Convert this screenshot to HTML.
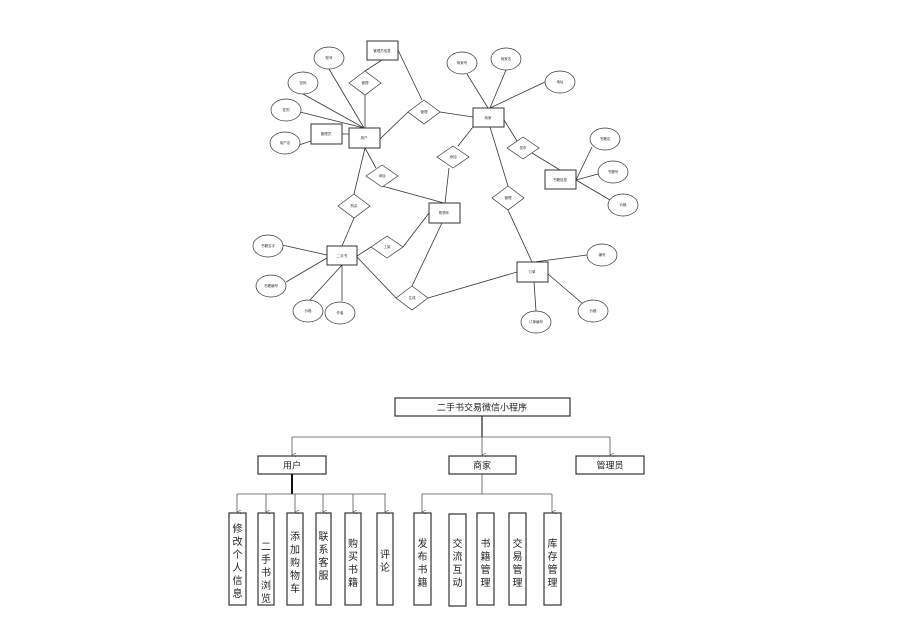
<!DOCTYPE html>
<html><head><meta charset="utf-8"><style>
html,body{margin:0;padding:0;background:#fff;}
svg{display:block;}
text{font-family:"Liberation Sans","Noto Sans CJK SC",sans-serif;}
.s{font-size:3.5px;fill:#333;text-anchor:middle;dominant-baseline:middle;}
.b{font-size:9px;fill:#222;text-anchor:middle;dominant-baseline:middle;}
.v{font-size:10px;fill:#222;text-anchor:middle;}
</style></head><body>
<svg width="924" height="625" viewBox="0 0 924 625" xmlns="http://www.w3.org/2000/svg">
<defs><marker id="a" markerWidth="4" markerHeight="4" refX="2" refY="4" orient="auto" markerUnits="userSpaceOnUse"><path d="M0,0 L2,4 L4,0" fill="none" stroke="#555" stroke-width="0.6"/></marker></defs>
<g stroke="#333" stroke-width="0.8" fill="none">
<!-- ER lines -->
<line x1="382" y1="60" x2="365" y2="71"/><line x1="365" y1="95" x2="365" y2="128"/>
<line x1="398" y1="50" x2="422" y2="100"/>
<line x1="380" y1="139" x2="408" y2="112"/><line x1="440" y1="112" x2="473" y2="117"/>
<line x1="329" y1="69" x2="364" y2="128"/><line x1="303" y1="94" x2="364" y2="128"/><line x1="300" y1="112" x2="364" y2="128"/>
<line x1="299" y1="145" x2="311" y2="141"/><line x1="342" y1="134" x2="349" y2="134"/>
<line x1="467" y1="74" x2="488" y2="108"/><line x1="506" y1="70" x2="490" y2="108"/><line x1="545" y1="82" x2="490" y2="108"/>
<line x1="473" y1="127" x2="458" y2="146"/><line x1="449" y1="168" x2="445" y2="203"/>
<line x1="504" y1="120" x2="517" y2="141"/><line x1="532" y1="153" x2="560" y2="170"/>
<line x1="576" y1="180" x2="592" y2="147"/><line x1="576" y1="180" x2="598" y2="174"/><line x1="576" y1="180" x2="610" y2="200"/>
<line x1="490" y1="127" x2="508" y2="186"/><line x1="508" y1="210" x2="532" y2="262"/>
<line x1="365" y1="148" x2="376" y2="168"/><line x1="382" y1="186" x2="444" y2="203"/>
<line x1="365" y1="148" x2="354" y2="194"/><line x1="354" y1="218" x2="342" y2="246"/>
<line x1="282" y1="245" x2="327" y2="255"/><line x1="286" y1="282" x2="327" y2="258"/><line x1="310" y1="300" x2="342" y2="265"/><line x1="342" y1="301" x2="342" y2="265"/>
<line x1="357" y1="256" x2="371" y2="247"/><line x1="403" y1="247" x2="429" y2="213"/>
<line x1="357" y1="257" x2="396" y2="298"/><line x1="442" y1="223" x2="412" y2="286"/><line x1="428" y1="298" x2="517" y2="272"/>
<line x1="534" y1="262" x2="587" y2="255"/><line x1="548" y1="274" x2="583" y2="304"/><line x1="534" y1="282" x2="536" y2="311"/>
</g>
<g stroke="#333" stroke-width="1" fill="#fff">
<rect x="367" y="41" width="31" height="19"/><rect x="349" y="128" width="31" height="20"/><rect x="311" y="124" width="31" height="20"/>
<rect x="473" y="108" width="31" height="19"/><rect x="545" y="170" width="31" height="19"/><rect x="429" y="203" width="31" height="20"/>
<rect x="327" y="246" width="30" height="19"/><rect x="517" y="262" width="31" height="20"/>
<g stroke-width="0.7">
<polygon points="349,83 365,71 381,83 365,95"/><polygon points="408,112 424,100 440,112 424,124"/><polygon points="437,157 453,146 469,157 453,168"/>
<polygon points="507,148 523,137 539,148 523,159"/><polygon points="366,176 382,165 398,176 382,187"/><polygon points="338,206 354,194 370,206 354,218"/>
<polygon points="492,198 508,186 524,198 508,210"/><polygon points="371,247 387,236 403,247 387,258"/><polygon points="396,298 412,286 428,298 412,310"/>
<ellipse cx="329" cy="58" rx="15" ry="11"/><ellipse cx="303" cy="83" rx="15" ry="11"/><ellipse cx="286" cy="110" rx="15" ry="11"/><ellipse cx="285" cy="143" rx="15" ry="11"/>
<ellipse cx="462" cy="63" rx="15" ry="11"/><ellipse cx="506" cy="59" rx="15" ry="11"/><ellipse cx="560" cy="82" rx="15" ry="11"/>
<ellipse cx="605" cy="139" rx="15" ry="11"/><ellipse cx="613" cy="172" rx="15" ry="11"/><ellipse cx="623" cy="205" rx="15" ry="11"/>
<ellipse cx="268" cy="246" rx="15" ry="11"/><ellipse cx="271" cy="286" rx="15" ry="11"/><ellipse cx="308" cy="311" rx="15" ry="11"/><ellipse cx="340" cy="313" rx="15" ry="11"/>
<ellipse cx="602" cy="255" rx="15" ry="11"/><ellipse cx="593" cy="311" rx="15" ry="11"/><ellipse cx="536" cy="322" rx="15" ry="11"/>
</g></g>
<g class="s">
<text x="382" y="51" class="s">管理员信息</text><text x="364" y="138" class="s">用户</text><text x="326" y="134" class="s">管理员</text>
<text x="488" y="118" class="s">商家</text><text x="560" y="180" class="s">书籍信息</text><text x="444" y="213" class="s">购物车</text>
<text x="342" y="256" class="s">二手书</text><text x="532" y="272" class="s">订单</text>
<text x="365" y="83" class="s">管理</text><text x="424" y="112" class="s">管理</text><text x="453" y="157" class="s">添加</text><text x="523" y="148" class="s">发布</text>
<text x="382" y="176" class="s">添加</text><text x="354" y="206" class="s">购买</text><text x="508" y="198" class="s">管理</text><text x="387" y="247" class="s">上架</text><text x="412" y="298" class="s">生成</text>
<text x="329" y="58" class="s">账号</text><text x="303" y="83" class="s">密码</text><text x="286" y="110" class="s">性别</text><text x="285" y="143" class="s">用户名</text>
<text x="462" y="63" class="s">商家号</text><text x="506" y="59" class="s">商家名</text><text x="560" y="82" class="s">地址</text>
<text x="605" y="139" class="s">书籍名</text><text x="613" y="172" class="s">书籍号</text><text x="623" y="205" class="s">价格</text>
<text x="268" y="246" class="s">书籍名字</text><text x="271" y="286" class="s">书籍编号</text><text x="308" y="311" class="s">价格</text><text x="340" y="313" class="s">作者</text>
<text x="602" y="255" class="s">编号</text><text x="593" y="311" class="s">价格</text><text x="536" y="322" class="s">订单编号</text>
</g>
<!-- tree -->
<g stroke="#333" fill="none">
<rect x="395" y="398" width="175" height="18" stroke-width="1.2"/>
<rect x="258" y="456" width="68" height="18" stroke-width="1.2"/><rect x="449" y="456" width="67" height="18" stroke-width="1.2"/><rect x="576" y="456" width="68" height="18" stroke-width="1.2"/>
<g stroke-width="0.8" stroke="#555">
<line x1="482" y1="416" x2="482" y2="437" stroke="#222" stroke-width="1.2"/>
<line x1="292" y1="437" x2="610" y2="437"/>
<line x1="292" y1="437" x2="292" y2="455" marker-end="url(#a)"/><line x1="482" y1="437" x2="482" y2="455" marker-end="url(#a)"/><line x1="610" y1="437" x2="610" y2="455" marker-end="url(#a)"/>
<line x1="292" y1="474" x2="292" y2="494" stroke="#111" stroke-width="2"/>
<line x1="237" y1="494" x2="386" y2="494"/>
<line x1="482" y1="474" x2="482" y2="494"/><line x1="422" y1="494" x2="552" y2="494"/>
<line x1="237" y1="494" x2="237" y2="512" marker-end="url(#a)"/><line x1="266" y1="494" x2="266" y2="512" marker-end="url(#a)"/><line x1="295" y1="494" x2="295" y2="512" marker-end="url(#a)"/>
<line x1="323" y1="494" x2="323" y2="512" marker-end="url(#a)"/><line x1="353" y1="494" x2="353" y2="512" marker-end="url(#a)"/><line x1="385" y1="494" x2="385" y2="512" marker-end="url(#a)"/>
<line x1="422" y1="494" x2="422" y2="512" marker-end="url(#a)"/><line x1="552" y1="494" x2="552" y2="512" marker-end="url(#a)"/>
</g>
<g stroke-width="1.2">
<rect x="229" y="513" width="17" height="92"/><rect x="258" y="513" width="16" height="92"/><rect x="287" y="513" width="16" height="92"/>
<rect x="316" y="513" width="15" height="92"/><rect x="345" y="513" width="16" height="92"/><rect x="377" y="513" width="16" height="92"/>
<rect x="414" y="513" width="17" height="92"/><rect x="449" y="514" width="17" height="92"/><rect x="477" y="513" width="17" height="92"/>
<rect x="509" y="513" width="17" height="92"/><rect x="544" y="513" width="17" height="92"/>
</g></g>
<text x="482" y="408" class="b">二手书交易微信小程序</text>
<text x="292" y="466" class="b">用户</text><text x="482" y="466" class="b">商家</text><text x="610" y="466" class="b">管理员</text>
<g class="v">
<text x="237.5" y="532">修</text><text x="237.5" y="545">改</text><text x="237.5" y="558">个</text><text x="237.5" y="571">人</text><text x="237.5" y="584">信</text><text x="237.5" y="597">息</text>
<text x="266" y="550">二</text><text x="266" y="563">手</text><text x="266" y="576">书</text><text x="266" y="589">浏</text><text x="266" y="602">览</text>
<text x="295" y="540">添</text><text x="295" y="553">加</text><text x="295" y="566">购</text><text x="295" y="579">物</text><text x="295" y="592">车</text>
<text x="323.5" y="540">联</text><text x="323.5" y="553">系</text><text x="323.5" y="566">客</text><text x="323.5" y="579">服</text>
<text x="353" y="547">购</text><text x="353" y="560">买</text><text x="353" y="573">书</text><text x="353" y="586">籍</text>
<text x="385" y="558">评</text><text x="385" y="571">论</text>
<text x="422.5" y="547">发</text><text x="422.5" y="560">布</text><text x="422.5" y="573">书</text><text x="422.5" y="586">籍</text>
<text x="457.5" y="547">交</text><text x="457.5" y="560">流</text><text x="457.5" y="573">互</text><text x="457.5" y="586">动</text>
<text x="485.5" y="547">书</text><text x="485.5" y="560">籍</text><text x="485.5" y="573">管</text><text x="485.5" y="586">理</text>
<text x="517.5" y="547">交</text><text x="517.5" y="560">易</text><text x="517.5" y="573">管</text><text x="517.5" y="586">理</text>
<text x="552.5" y="547">库</text><text x="552.5" y="560">存</text><text x="552.5" y="573">管</text><text x="552.5" y="586">理</text>
</g>
</svg>
</body></html>
